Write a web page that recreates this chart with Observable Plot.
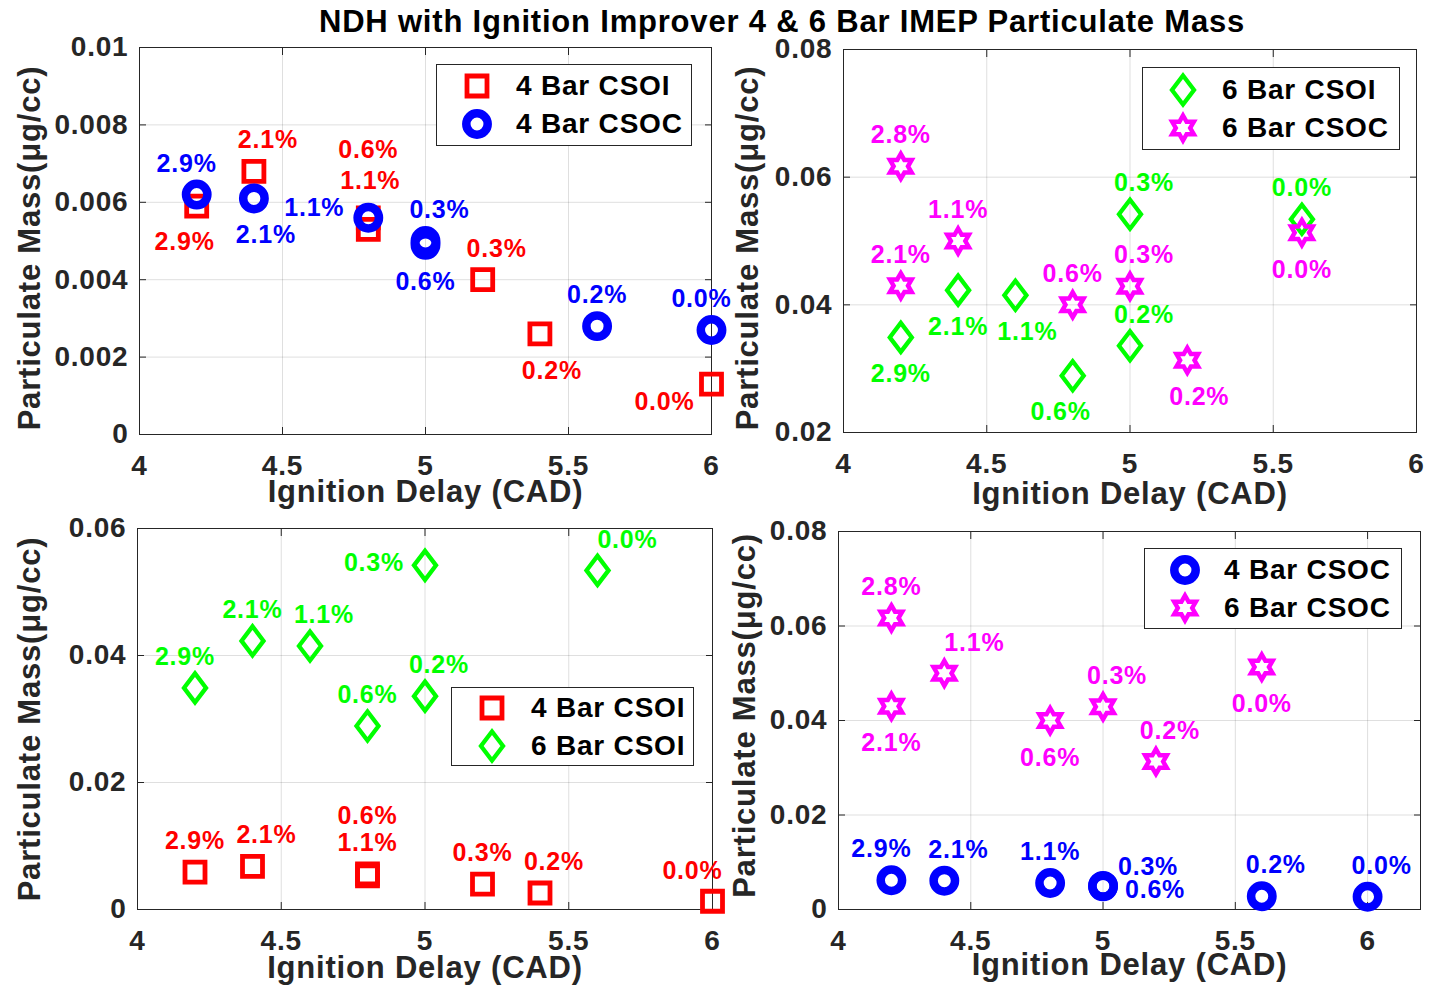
<!DOCTYPE html>
<html>
<head>
<meta charset="utf-8">
<script src="https://cdn.jsdelivr.net/npm/d3@7"></script>
<script src="https://cdn.jsdelivr.net/npm/@observablehq/plot@0.6"></script>
<style>
  html, body { margin: 0; padding: 0; background: #fff; }
  #root { position: relative; width: 1430px; height: 986px; overflow: hidden;
    font-family: "Liberation Sans", Arial, Helvetica, sans-serif; font-weight: bold; letter-spacing: 0.8px; }
  .panel { position: absolute; }
  .title { position: absolute; top: 6px; left: 782px; transform: translateX(-50%);
    font-size: 31px; line-height: 32px; white-space: nowrap; color: #000; }
  .legend { position: absolute; background: #fff; border: 1px solid #262626; box-sizing: border-box; }
  .legend svg { position: absolute; overflow: visible; }
  .legend span { position: absolute; font-size: 28px; line-height: 30px; color: #000; white-space: nowrap; }
</style>
</head>
<body>
<div id="root"></div>
<script>
// ---------------- text ----------------
const titleText = "NDH with Ignition Improver 4 & 6 Bar IMEP Particulate Mass";
const xAxisLabel = "Ignition Delay (CAD)";
const yAxisLabel = "Particulate Mass(\u03bcg/cc)";
const nameCsoi4 = "4 Bar CSOI";
const nameCsoc4 = "4 Bar CSOC";
const nameCsoi6 = "6 Bar CSOI";
const nameCsoc6 = "6 Bar CSOC";

// ---------------- ticks ----------------
const xTicks = [4, 4.5, 5, 5.5, 6];
const xTickLabels = ["4", "4.5", "5", "5.5", "6"];
const yTicksA = [0, 0.002, 0.004, 0.006, 0.008, 0.01];
const yTickLabelsA = ["0", "0.002", "0.004", "0.006", "0.008", "0.01"];
const yTicksB = [0.02, 0.04, 0.06, 0.08];
const yTickLabelsB = ["0.02", "0.04", "0.06", "0.08"];
const yTicksC = [0, 0.02, 0.04, 0.06];
const yTickLabelsC = ["0", "0.02", "0.04", "0.06"];
const yTicksD = [0, 0.02, 0.04, 0.06, 0.08];
const yTickLabelsD = ["0", "0.02", "0.04", "0.06", "0.08"];

// ---------------- data ----------------
// 4 Bar CSOI
const pctCsoi4   = ["2.9%", "2.1%", "1.1%", "0.6%", "0.3%", "0.2%", "0.0%"];
const delayCsoi4 = [4.2, 4.4, 4.8, 4.8, 5.2, 5.4, 6.0];
const pmCsoi4    = [0.0059, 0.0068, 0.0056, 0.0053, 0.0040, 0.0026, 0.0013];
// 4 Bar CSOC
const pctCsoc4   = ["2.9%", "2.1%", "1.1%", "0.6%", "0.3%", "0.2%", "0.0%"];
const delayCsoc4 = [4.2, 4.4, 4.8, 5.0, 5.0, 5.6, 6.0];
const pmCsoc4    = [0.0062, 0.0061, 0.0056, 0.0049, 0.0050, 0.0028, 0.0027];
// 6 Bar CSOI
const pctCsoi6   = ["2.9%", "2.1%", "1.1%", "0.6%", "0.3%", "0.2%", "0.0%"];
const delayCsoi6 = [4.2, 4.4, 4.6, 4.8, 5.0, 5.0, 5.6];
const pmCsoi6    = [0.0349, 0.0423, 0.0415, 0.0289, 0.0542, 0.0336, 0.0534];
// 6 Bar CSOC
const pctCsoc6   = ["2.8%", "2.1%", "1.1%", "0.6%", "0.3%", "0.2%", "0.0%"];
const delayCsoc6 = [4.2, 4.2, 4.4, 4.8, 5.0, 5.2, 5.6];
const pmCsoc6    = [0.0617, 0.0430, 0.0500, 0.0400, 0.0429, 0.0313, 0.0513];

// ---------------- label placement codes (per panel) ----------------
const posP1Csoi4 = ["sw", "ne", "n2", "nn", "ne", "se", "wsw"];
const posP1Csoc4 = ["nw", "se", "w", "s", "ne", "n", "nw"];
const posP2Csoi6 = ["s", "s", "se", "sw", "ne", "ne", "n"];
const posP2Csoc6 = ["n", "n", "n", "n", "ne", "se", "s"];
const posP3Csoi4 = ["n", "ne", "n", "nn3", "n", "ne", "nw2"];
const posP3Csoi6 = ["nw", "n", "ne", "n", "w0", "ne", "ne2"];
const posP4Csoc4 = ["nw", "ne", "n", "e2", "e1", "ne", "ne"];
const posP4Csoc6 = ["n", "s", "ne2", "s", "ne", "ne", "s"];

const OFF = {
  n: [0, -31], n2: [2, -37], nn: [0, -79], nn3: [0, -60], s: [0, 37],
  ne: [14, -31], ne2: [30, -30], nw: [-10, -31], nw2: [-20, -30],
  se: [12, 37], sw: [-12, 36], wsw: [-47, 18], w: [-54, -10], w0: [-51, -2],
  e1: [45, -19], e2: [52, 4]
};

// ---------------- colours & symbols ----------------
const RED = "#ff0000", BLUE = "#0000ff", GREEN = "#00ff00", MAGENTA = "#ff00ff", AX = "#262626";

const symSquare = { draw(ctx, size) { const r = Math.sqrt(size / Math.PI); ctx.rect(-r, -r, 2 * r, 2 * r); } };
const symCircle = { draw(ctx, size) { const r = Math.sqrt(size / Math.PI); ctx.moveTo(r, 0); ctx.arc(0, 0, r, 0, 2 * Math.PI); } };
const symDiamond = { draw(ctx, size) { const r = Math.sqrt(size / Math.PI), w = r * 0.76;
  ctx.moveTo(0, -r); ctx.lineTo(w, 0); ctx.lineTo(0, r); ctx.lineTo(-w, 0); ctx.closePath(); } };
const symHexagram = { draw(ctx, size) { const R = Math.sqrt(size / Math.PI), ri = R / Math.sqrt(3);
  for (let k = 0; k < 12; k++) { const a = -Math.PI / 2 + k * Math.PI / 6, rr = k % 2 === 0 ? R : ri;
    const px = rr * Math.cos(a), py = rr * Math.sin(a); if (k === 0) ctx.moveTo(px, py); else ctx.lineTo(px, py); }
  ctx.closePath(); } };

const STY = {
  csoi4: { name: nameCsoi4, color: RED, symbol: symSquare, r: 10, sw: 4.8 },
  csoc4: { name: nameCsoc4, color: BLUE, symbol: symCircle, r: 10.7, sw: 8.5 },
  csoi6: { name: nameCsoi6, color: GREEN, symbol: symDiamond, r: 14.5, sw: 4.3 },
  csoc6: { name: nameCsoc6, color: MAGENTA, symbol: symHexagram, r: 12.5, sw: 4.5 }
};

function rows(xs, ys, labels, pos) {
  return xs.map((x, i) => ({ x, y: ys[i], label: labels[i], pos: pos[i] }));
}

const root = document.getElementById("root");
const titleDiv = document.createElement("div");
titleDiv.className = "title";
titleDiv.textContent = titleText;
root.appendChild(titleDiv);

function seriesMarks(data, st) {
  return [Plot.dot(data, { x: "x", y: "y", symbol: st.symbol, r: st.r, stroke: st.color, strokeWidth: st.sw, fill: "none" })];
}
function labelMarks(data, st) {
  const codes = [...new Set(data.map(d => d.pos))];
  return codes.map(c => Plot.text(data.filter(d => d.pos === c), {
    x: "x", y: "y", text: "label", dx: OFF[c][0], dy: OFF[c][1], fill: st.color, fontSize: 25,
    textAnchor: "middle", lineAnchor: "middle"
  }));
}

function drawPanel(p) {
  const marginLeft = p.frame[0] - p.left, marginRight = p.left + p.width - p.frame[1];
  const marginTop = p.frame[2] - p.top, marginBottom = p.top + p.height - p.frame[3];
  const fmtY = d => p.yTickLabels[p.yTicks.indexOf(d)];
  const fmtX = d => xTickLabels[xTicks.indexOf(d)];
  const marks = [
    Plot.gridX(xTicks, { stroke: AX, strokeOpacity: 0.15 }),
    Plot.gridY(p.yTicks, { stroke: AX, strokeOpacity: 0.15 }),
    Plot.frame({ stroke: AX, strokeWidth: 1 }),
    Plot.axisX(xTicks, { anchor: "bottom", tickSize: 0, tickPadding: 21, fontSize: 28, fill: AX, tickFormat: fmtX, label: null }),
    Plot.axisX(xTicks, { anchor: "bottom", tickSize: -7, stroke: AX, tickFormat: () => "", label: null }),
    Plot.axisX(xTicks, { anchor: "top", tickSize: -7, stroke: AX, tickFormat: () => "", label: null }),
    Plot.axisY(p.yTicks, { anchor: "left", tickSize: 0, tickPadding: 11, fontSize: 28, fill: AX, tickFormat: fmtY, label: null }),
    Plot.axisY(p.yTicks, { anchor: "left", tickSize: -7, stroke: AX, tickFormat: () => "", label: null }),
    Plot.axisY(p.yTicks, { anchor: "right", tickSize: -7, stroke: AX, tickFormat: () => "", label: null }),
    Plot.text([xAxisLabel], { text: d => d, frameAnchor: "bottom", dy: p.xLabelDy, fontSize: 31, fill: AX,
      textAnchor: "middle", lineAnchor: "middle" }),
    Plot.text([yAxisLabel], { text: d => d, frameAnchor: "left", rotate: -90, dx: p.yLabelDx, dy: p.yLabelDy, fontSize: 31, fill: AX,
      textAnchor: "middle", lineAnchor: "middle" })
  ];
  p.series.forEach(s => marks.push(...seriesMarks(s.data, s.st)));
  p.series.forEach(s => marks.push(...labelMarks(s.data, s.st)));
  const svg = Plot.plot({
    width: p.width, height: p.height,
    marginLeft, marginRight, marginTop, marginBottom,
    x: { domain: p.xDomain }, y: { domain: p.yDomain },
    style: { fontFamily: "'Liberation Sans', Arial, Helvetica, sans-serif", fontWeight: "bold", letterSpacing: "0.8px",
             overflow: "visible", background: "transparent", color: AX },
    marks
  });
  const div = document.createElement("div");
  div.className = "panel";
  Object.assign(div.style, { left: p.left + "px", top: p.top + "px", width: p.width + "px", height: p.height + "px" });
  div.appendChild(svg);
  root.appendChild(div);
}

function drawLegend(box, sts) {
  const div = document.createElement("div");
  div.className = "legend";
  Object.assign(div.style, { left: box[0] + "px", top: box[1] + "px", width: box[2] + "px", height: box[3] + "px" });
  sts.forEach((st, i) => {
    const cy = box[3] / 2 + (i === 0 ? -19 : 19) - 1;
    const svg = d3.create("svg").attr("width", 40).attr("height", 40)
      .style("left", (40 - 20) + "px").style("top", (cy - 20) + "px");
    svg.append("path").attr("transform", "translate(20,20)")
      .attr("d", d3.symbol(st.symbol, st.r * st.r * Math.PI)())
      .attr("fill", "none").attr("stroke", st.color).attr("stroke-width", st.sw);
    div.appendChild(svg.node());
    const span = document.createElement("span");
    span.textContent = st.name;
    span.style.left = "79px";
    span.style.top = (cy - 15) + "px";
    div.appendChild(span);
  });
  root.appendChild(div);
}

// ---------------- panels ----------------
drawPanel({
  left: 0, top: 0, width: 715, height: 515, frame: [139, 711, 47, 434],
  xDomain: [4, 6], yDomain: [0, 0.01], yTicks: yTicksA, yTickLabels: yTickLabelsA,
  xLabelDy: 58, yLabelDx: -109, yLabelDy: 7,
  series: [
    { data: rows(delayCsoi4, pmCsoi4, pctCsoi4, posP1Csoi4), st: STY.csoi4 },
    { data: rows(delayCsoc4, pmCsoc4, pctCsoc4, posP1Csoc4), st: STY.csoc4 }
  ]
});
drawPanel({
  left: 715, top: 0, width: 715, height: 515, frame: [843, 1416, 49, 432],
  xDomain: [4, 6], yDomain: [0.02, 0.08], yTicks: yTicksB, yTickLabels: yTickLabelsB,
  xLabelDy: 62, yLabelDx: -95, yLabelDy: 7,
  series: [
    { data: rows(delayCsoi6, pmCsoi6, pctCsoi6, posP2Csoi6), st: STY.csoi6 },
    { data: rows(delayCsoc6, pmCsoc6, pctCsoc6, posP2Csoc6), st: STY.csoc6 }
  ]
});
drawPanel({
  left: 0, top: 515, width: 715, height: 471, frame: [137, 712, 528, 909],
  xDomain: [4, 6], yDomain: [0, 0.06], yTicks: yTicksC, yTickLabels: yTickLabelsC,
  xLabelDy: 59, yLabelDx: -107, yLabelDy: 0,
  series: [
    { data: rows(delayCsoi4, pmCsoi4, pctCsoi4, posP3Csoi4), st: STY.csoi4 },
    { data: rows(delayCsoi6, pmCsoi6, pctCsoi6, posP3Csoi6), st: STY.csoi6 }
  ]
});
drawPanel({
  left: 715, top: 515, width: 715, height: 471, frame: [838, 1420, 531, 909],
  xDomain: [4, 6.2], yDomain: [0, 0.08], yTicks: yTicksD, yTickLabels: yTickLabelsD,
  xLabelDy: 56, yLabelDx: -93, yLabelDy: -5,
  series: [
    { data: rows(delayCsoc4, pmCsoc4, pctCsoc4, posP4Csoc4), st: STY.csoc4 },
    { data: rows(delayCsoc6, pmCsoc6, pctCsoc6, posP4Csoc6), st: STY.csoc6 }
  ]
});

// ---------------- legends ----------------
drawLegend([436, 64, 256, 82], [STY.csoi4, STY.csoc4]);
drawLegend([1142, 67, 258, 83], [STY.csoi6, STY.csoc6]);
drawLegend([451, 687, 243, 79], [STY.csoi4, STY.csoi6]);
drawLegend([1144, 548, 258, 81], [STY.csoc4, STY.csoc6]);
</script>
</body>
</html>
